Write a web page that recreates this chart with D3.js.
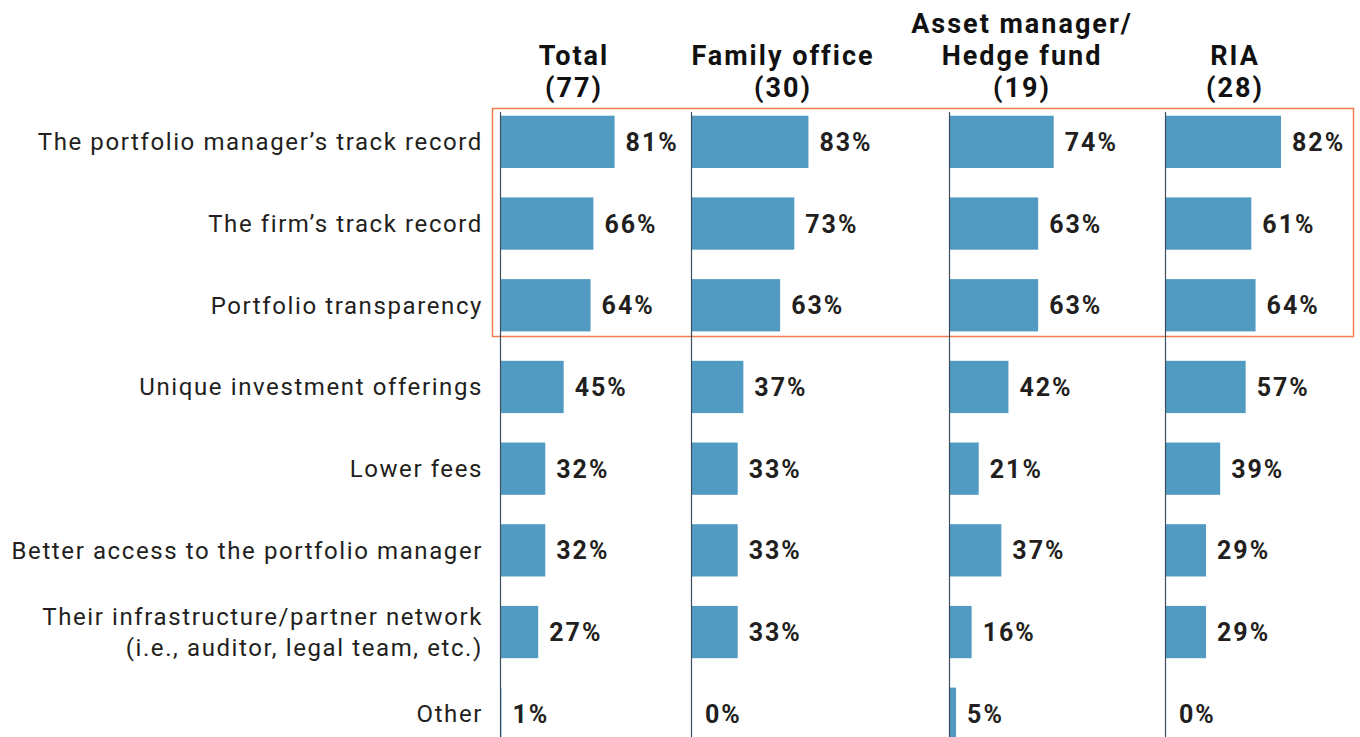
<!DOCTYPE html>
<html><head><meta charset="utf-8">
<script src="https://cdn.jsdelivr.net/npm/d3@7"></script>
<style>
html,body{margin:0;padding:0;background:#fff;}
svg text{font-family:Roboto,"Noto Sans",sans-serif;}
</style></head>
<body><svg id="c" width="1360" height="737"></svg>
<script>
const categories = [
  ["The portfolio manager\u2019s track record"],
  ["The firm\u2019s track record"],
  ["Portfolio transparency"],
  ["Unique investment offerings"],
  ["Lower fees"],
  ["Better access to the portfolio manager"],
  ["Their infrastructure/partner network", "(i.e., auditor, legal team, etc.)"],
  ["Other"]
];
const groups = [
  ["Total", "(77)"],
  ["Family office", "(30)"],
  ["Asset manager/", "Hedge fund", "(19)"],
  ["RIA", "(28)"]
];
const total = [81, 66, 64, 45, 32, 32, 27, 1];
const familyOffice = [83, 73, 63, 37, 33, 33, 33, 0];
const assetManager = [74, 63, 63, 42, 21, 37, 16, 5];
const ria = [82, 61, 64, 57, 39, 29, 29, 0];
const series = [total, familyOffice, assetManager, ria];

const svg = d3.select("#c");
const panelX = [500, 691, 949, 1165];
const headerCx = [574, 783, 1022, 1235];
const y = d3.scaleBand().domain(d3.range(categories.length)).range([101, 101 + 8 * 81.7]).paddingInner(0.36).paddingOuter(0.18);
const x = d3.scaleLinear().domain([0, 100]).range([0, 141.5]);
const barColor = "#519bc3";
const textColor = "#231f20";

// highlight box
svg.append("rect").attr("x", 492.5).attr("y", 108.5).attr("width", 861).attr("height", 228)
  .attr("fill", "none").attr("stroke", "#f47c4c").attr("stroke-width", 1.5);

// category labels
categories.forEach((lines, i) => {
  const cy = y(i) + y.bandwidth() / 2;
  const t = svg.append("text").attr("x", 483).attr("text-anchor", "end")
    .attr("font-size", 24).attr("fill", textColor).attr("letter-spacing", 1.6);
  const n = lines.length;
  lines.forEach((l, k) => {
    t.append("tspan").attr("x", 483).attr("y", cy + 8.5 + (k - (n - 1) / 2) * 31).text(l);
  });
});

series.forEach((vals, p) => {
  const g = svg.append("g").attr("transform", `translate(${panelX[p]},0)`);
  g.selectAll("rect.bar").data(vals).join("rect").attr("class", "bar")
    .attr("x", 0).attr("y", (d, i) => y(i)).attr("width", d => x(d)).attr("height", y.bandwidth())
    .attr("fill", barColor);
  g.append("line").attr("x1", 0.5).attr("x2", 0.5).attr("y1", 112).attr("y2", 737)
    .attr("stroke", "#3d4f5c").attr("stroke-width", 1.2);
  g.selectAll("text.val").data(vals).join("text").attr("class", "val")
    .attr("x", d => x(d) + (d === 0 ? 14 : 11)).attr("y", (d, i) => y(i) + y.bandwidth() / 2 + 9)
    .attr("font-size", 25).attr("font-weight", 700).attr("fill", textColor).attr("letter-spacing", 2)
    .text(d => d + "%");
  // header lines
  const lines = groups[p];
  lines.forEach((l, k) => {
    svg.append("text").attr("text-anchor", "middle").attr("font-size", 27)
      .attr("font-weight", 700).attr("fill", "#111").attr("letter-spacing", 2)
      .attr("x", headerCx[p]).attr("y", 97 - (lines.length - 1 - k) * 32).text(l);
  });
});
</script></body></html>
